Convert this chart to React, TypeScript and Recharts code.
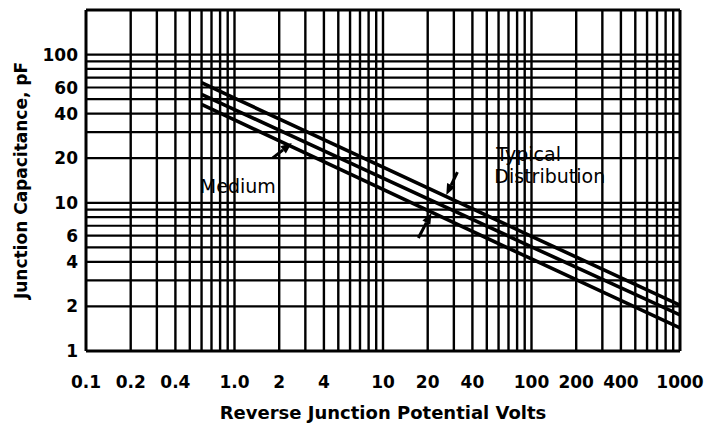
import React from 'react';
import { LineChart, Line, XAxis, YAxis, ReferenceLine, ReferenceDot } from 'recharts';

// Reverse junction potential (V) sampled along the curves
const volts = [0.6, 1, 10, 100, 1000];
// Junction capacitance (pF) for the three curves
const typicalHigh = [64.6, 50.9, 17.4, 5.94, 2.04];
const medium = [54.0, 42.6, 14.7, 5.05, 1.75];
const typicalLow = [46.2, 36.3, 12.3, 4.18, 1.43];

const xTicks = [0.1, 0.2, 0.4, 1, 2, 4, 10, 20, 40, 100, 200, 400, 1000];
const xTickLabels = ['0.1', '0.2', '0.4', '1.0', '2', '4', '10', '20', '40', '100', '200', '400', '1000'];
const yTicks = [1, 2, 4, 6, 10, 20, 40, 60, 100];
const yTickLabels = ['1', '2', '4', '6', '10', '20', '40', '60', '100'];

const multipliers = [1, 2, 3, 4, 5, 6, 7, 8, 9];
const xDecades = [0.1, 1, 10, 100];
const yDecades = [1, 10];
const xGrid = [...xDecades.flatMap((d) => multipliers.map((m) => +(m * d).toPrecision(3))), 1000];
const yGrid = [...yDecades.flatMap((d) => multipliers.map((m) => m * d)), 100];
const xDomain = [0.1, 1000];
const yDomain = [1, 200];

// annotations (data coordinates)
const arrows = [
  { from: { x: 1.81, y: 20.1 }, to: { x: 2.43, y: 25.3 } },
  { from: { x: 31.7, y: 16.1 }, to: { x: 26.7, y: 11.3 } },
  { from: { x: 17.3, y: 5.79 }, to: { x: 21.2, y: 8.54 } },
];
const notes = [
  { text: 'Medium', x: 0.584, y: 11.6 },
  { text: 'Typical', x: 58, y: 19.1 },
  { text: 'Distribution', x: 56.2, y: 13.6 },
];

const data = volts.map((v, i) => ({ v, high: typicalHigh[i], mid: medium[i], low: typicalLow[i] }));

const FONT = 'DejaVu Sans';

const ArrowShape = (props: any) => {
  const { x1, y1, x2, y2 } = props;
  const dx = x2 - x1;
  const dy = y2 - y1;
  const len = Math.sqrt(dx * dx + dy * dy) || 1;
  const ux = dx / len;
  const uy = dy / len;
  const hl = 11;
  const hw = 4.5;
  const bx = x2 - ux * hl;
  const by = y2 - uy * hl;
  const pts = `${x2},${y2} ${bx - uy * hw},${by + ux * hw} ${bx + uy * hw},${by - ux * hw}`;
  return (
    <g>
      <line x1={x1} y1={y1} x2={bx} y2={by} stroke="#000" strokeWidth={3} />
      <polygon points={pts} fill="#000" />
    </g>
  );
};

export default function App() {
  return (
    <div style={{ position: 'absolute', left: 0, top: 0, background: '#fff' }}>
      <LineChart width={713} height={429} data={data} margin={{ top: 10, right: 33, left: 0, bottom: 0 }}>
        <XAxis
          dataKey="v"
          type="number"
          scale="log"
          domain={xDomain}
          ticks={xTicks}
          allowDataOverflow
          axisLine={false}
          tickLine={false}
          tickSize={0}
          tickMargin={25}
          height={78}
          interval={0}
          tickFormatter={(v: number) => xTickLabels[xTicks.indexOf(v)] ?? String(v)}
          tick={{ fontFamily: FONT, fontSize: 17, fontWeight: 'bold', fill: '#000' }}
          label={{
            value: 'Reverse Junction Potential Volts',
            position: 'insideBottom',
            offset: 10,
            style: { fontFamily: FONT, fontSize: 18, fontWeight: 'bold', fill: '#000' },
          }}
        />
        <YAxis
          type="number"
          scale="log"
          domain={yDomain}
          ticks={yTicks}
          allowDataOverflow
          axisLine={false}
          tickLine={false}
          tickSize={0}
          tickMargin={8}
          width={86}
          interval={0}
          tickFormatter={(v: number) => yTickLabels[yTicks.indexOf(v)] ?? String(v)}
          tick={{ fontFamily: FONT, fontSize: 17, fontWeight: 'bold', fill: '#000' }}
          label={{
            value: 'Junction Capacitance, pF',
            angle: -90,
            position: 'insideLeft',
            offset: 21,
            style: { textAnchor: 'middle', fontFamily: FONT, fontSize: 17, fontWeight: 'bold', fill: '#000' },
          }}
        />
        {xGrid.map((x) => (
          <ReferenceLine key={'vx' + x} x={x} stroke="#000" strokeWidth={x === 0.1 || x === 1000 ? 3 : 2.4} />
        ))}
        {yGrid.map((y) => (
          <ReferenceLine key={'hy' + y} y={y} stroke="#000" strokeWidth={y === 1 ? 3 : 2.2} />
        ))}
        <ReferenceLine y={200} stroke="#000" strokeWidth={3} />
        <Line dataKey="high" stroke="#000" strokeWidth={3.6} dot={false} isAnimationActive={false} type="linear" />
        <Line dataKey="mid" stroke="#000" strokeWidth={3.6} dot={false} isAnimationActive={false} type="linear" />
        <Line dataKey="low" stroke="#000" strokeWidth={3.6} dot={false} isAnimationActive={false} type="linear" />
        {arrows.map((a, i) => (
          <ReferenceLine key={'ar' + i} segment={[a.from, a.to]} shape={ArrowShape} ifOverflow="visible" />
        ))}
        {notes.map((n) => (
          <ReferenceDot
            key={n.text}
            x={n.x}
            y={n.y}
            r={0}
            ifOverflow="visible"
            shape={(p: any) => (
              <text x={p.cx} y={p.cy} fontFamily={FONT} fontSize={19} fontWeight={500} fill="#000">
                {n.text}
              </text>
            )}
          />
        ))}
      </LineChart>
    </div>
  );
}
